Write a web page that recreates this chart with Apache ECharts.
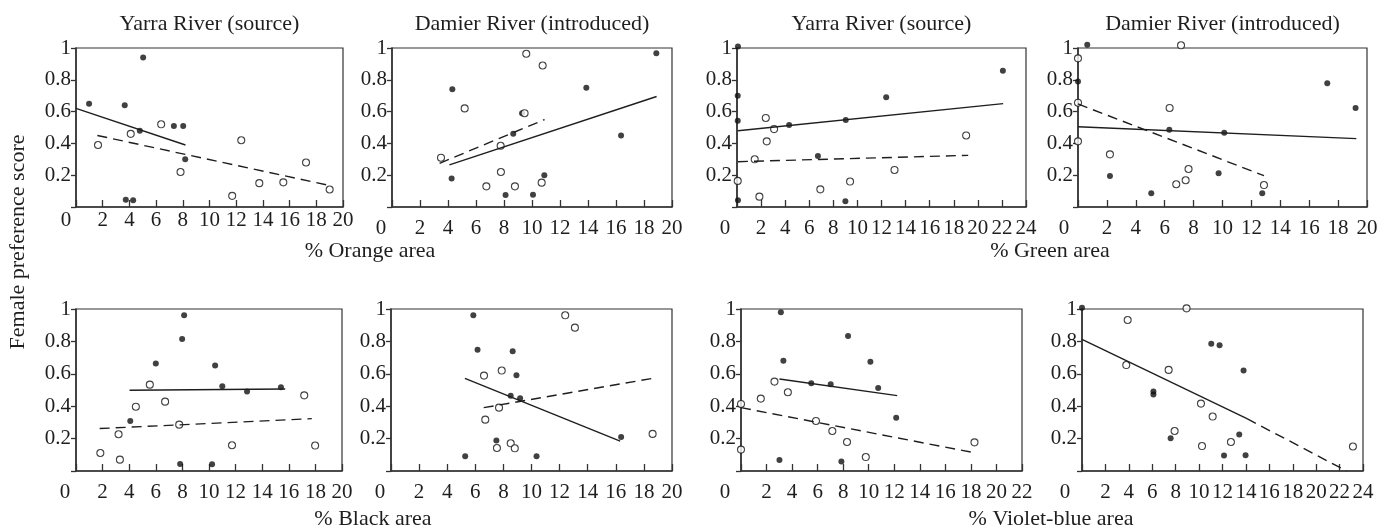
<!DOCTYPE html>
<html>
<head>
<meta charset="utf-8">
<script src="https://cdn.jsdelivr.net/npm/echarts@6/dist/echarts.min.js"></script>
<style>
	html, body { margin: 0; padding: 0; background: #fff; }
	#chart { width: 1392px; height: 530px; }
</style>
</head>
<body>
<div id="chart"></div>
<script>
// 8 panels: filled dots, open circles, solid fit line, dashed fit line

// % orange area, Yarra River (source)
const orangeYarraFilled = [[0.98, 0.65], [3.65, 0.64], [5.03, 0.94], [4.78, 0.48], [7.33, 0.51], [8.03, 0.51], [8.18, 0.30], [3.73, 0.046], [4.28, 0.042]];
const orangeYarraOpen = [[1.65, 0.39], [4.1, 0.46], [6.38, 0.52], [7.83, 0.22], [11.7, 0.07], [12.38, 0.42], [13.73, 0.15], [15.53, 0.155], [17.23, 0.28], [19.0, 0.11]];
const orangeYarraSolid = [[0, 0.62], [8.2, 0.39]];
const orangeYarraDashed = [[1.6, 0.45], [19, 0.135]];

// % orange area, Damier River (introduced)
const orangeDamierFilled = [[4.31, 0.74], [4.26, 0.18], [8.66, 0.46], [9.29, 0.59], [8.11, 0.075], [10.07, 0.077], [10.88, 0.2], [13.88, 0.75], [16.36, 0.45], [18.88, 0.967]];
const orangeDamierOpen = [[3.5, 0.31], [5.19, 0.62], [6.74, 0.13], [7.76, 0.385], [7.78, 0.22], [8.78, 0.13], [9.47, 0.59], [9.59, 0.964], [10.76, 0.89], [10.69, 0.153]];
const orangeDamierSolid = [[4.1, 0.265], [18.9, 0.695]];
const orangeDamierDashed = [[3.4, 0.275], [10.9, 0.55]];

// % green area, Yarra River (source)
const greenYarraFilled = [[0.08, 1.01], [0.06, 0.70], [0.06, 0.543], [0.08, 0.042], [4.33, 0.516], [6.72, 0.32], [9.03, 0.547], [9.0, 0.036], [12.39, 0.69], [22.08, 0.857]];
const greenYarraOpen = [[0.06, 0.164], [1.47, 0.30], [1.86, 0.065], [2.39, 0.56], [2.47, 0.413], [3.08, 0.49], [6.92, 0.111], [9.39, 0.16], [13.08, 0.233], [19.03, 0.45]];
const greenYarraSolid = [[0.08, 0.48], [22.1, 0.65]];
const greenYarraDashed = [[0.08, 0.285], [19.2, 0.325]];

// % green area, Damier River (introduced)
const greenDamierFilled = [[0.64, 1.02], [0, 0.79], [2.21, 0.195], [5.07, 0.086], [6.32, 0.486], [10.12, 0.467], [9.73, 0.212], [12.75, 0.086], [17.25, 0.778], [19.21, 0.623]];
const greenDamierOpen = [[0, 0.935], [0, 0.656], [0, 0.413], [2.21, 0.331], [6.34, 0.623], [7.13, 1.017], [6.8, 0.143], [7.45, 0.168], [7.65, 0.239], [12.87, 0.138]];
const greenDamierSolid = [[0, 0.505], [19.26, 0.43]];
const greenDamierDashed = [[0, 0.648], [12.87, 0.197]];

// % black area, Yarra River (source)
const blackYarraFilled = [[4.08, 0.309], [6.0, 0.663], [8.13, 0.961], [7.98, 0.815], [7.83, 0.043], [10.23, 0.041], [10.46, 0.652], [11.0, 0.523], [12.86, 0.49], [15.41, 0.517]];
const blackYarraOpen = [[1.83, 0.111], [3.2, 0.227], [3.3, 0.07], [4.5, 0.397], [5.55, 0.533], [6.7, 0.428], [7.76, 0.286], [11.73, 0.159], [17.16, 0.467], [17.98, 0.157]];
const blackYarraSolid = [[4.03, 0.498], [15.73, 0.506]];
const blackYarraDashed = [[1.78, 0.262], [17.73, 0.323]];

// % black area, Damier River (introduced)
const blackDamierFilled = [[5.28, 0.091], [5.86, 0.961], [6.16, 0.749], [7.5, 0.188], [8.52, 0.465], [8.66, 0.739], [8.93, 0.591], [9.19, 0.449], [10.36, 0.091], [16.38, 0.21]];
const blackDamierOpen = [[6.62, 0.589], [6.71, 0.317], [7.54, 0.142], [7.69, 0.391], [7.88, 0.62], [8.52, 0.171], [8.81, 0.14], [12.4, 0.961], [13.09, 0.885], [18.62, 0.229]];
const blackDamierSolid = [[5.26, 0.572], [16.31, 0.185]];
const blackDamierDashed = [[6.6, 0.391], [18.76, 0.574]];

// % violet-blue area, Yarra River (source)
const violetYarraFilled = [[3.12, 0.98], [3.01, 0.068], [3.32, 0.681], [5.5, 0.541], [7.02, 0.535], [7.86, 0.058], [8.38, 0.833], [10.13, 0.675], [10.74, 0.512], [12.15, 0.329]];
const violetYarraOpen = [[0, 0.414], [0, 0.132], [1.55, 0.447], [2.62, 0.552], [3.67, 0.486], [5.87, 0.309], [7.15, 0.247], [8.3, 0.179], [9.77, 0.086], [18.28, 0.177]];
const violetYarraSolid = [[3.01, 0.568], [12.23, 0.465]];
const violetYarraDashed = [[0, 0.391], [18.12, 0.115]];

// % violet-blue area, Damier River (introduced)
const violetDamierFilled = [[0, 1.008], [6.1, 0.49], [6.1, 0.472], [7.57, 0.202], [11.04, 0.786], [11.75, 0.776], [13.8, 0.621], [13.43, 0.225], [12.13, 0.095], [13.97, 0.097]];
const violetDamierOpen = [[3.9, 0.932], [3.78, 0.654], [8.93, 1.004], [7.4, 0.624], [7.91, 0.247], [10.16, 0.416], [10.25, 0.154], [11.16, 0.336], [12.72, 0.179], [23.14, 0.151]];
const violetDamierSolid = [[0, 0.813], [14.09, 0.323]];
const violetDamierDashed = [[14.09, 0.323], [22.6, 0.0]];

// axis ranges and text
const xMaxes = [20, 20, 24, 20, 20, 20, 22, 24];
const panelTitles = ["Yarra River (source)", "Damier River (introduced)", "Yarra River (source)", "Damier River (introduced)"];
const xAxisNames = ["% Orange area", "% Green area", "% Black area", "% Violet-blue area"];
const yAxisName = "Female preference score";

const panels = [
	[orangeYarraFilled, orangeYarraOpen, orangeYarraSolid, orangeYarraDashed],
	[orangeDamierFilled, orangeDamierOpen, orangeDamierSolid, orangeDamierDashed],
	[greenYarraFilled, greenYarraOpen, greenYarraSolid, greenYarraDashed],
	[greenDamierFilled, greenDamierOpen, greenDamierSolid, greenDamierDashed],
	[blackYarraFilled, blackYarraOpen, blackYarraSolid, blackYarraDashed],
	[blackDamierFilled, blackDamierOpen, blackDamierSolid, blackDamierDashed],
	[violetYarraFilled, violetYarraOpen, violetYarraSolid, violetYarraDashed],
	[violetDamierFilled, violetDamierOpen, violetDamierSolid, violetDamierDashed],
];

// layout
const FONT = "'Liberation Serif', 'Times New Roman', serif";
const INK = "#1e1e1e";
const grids = [
	{ left: 76, top: 48, width: 267, height: 159 },
	{ left: 392, top: 48, width: 280, height: 159 },
	{ left: 737, top: 48, width: 289, height: 159 },
	{ left: 1078, top: 48, width: 289, height: 159 },
	{ left: 76, top: 309, width: 266, height: 162 },
	{ left: 391, top: 309, width: 281, height: 162 },
	{ left: 741, top: 309, width: 281, height: 162 },
	{ left: 1082, top: 309, width: 281, height: 162 },
];
// the "0" x label sits left of the corner
const zeroShift = [10, 11, 12, 14, 11, 11, 16, 17];
const xLabelMargin = [3, 11, 11, 11, 11, 11, 11, 11];

const chart = echarts.init(document.getElementById("chart"), null, { renderer: "canvas" });

const textEl = (text, x, y, size, rotation) => ({
	type: "text",
	x, y,
	rotation: rotation || 0,
	style: {
		text,
		fontFamily: FONT,
		fontSize: size,
		fill: INK,
		align: "center",
		verticalAlign: "middle",
		textAlign: "center",
		textVerticalAlign: "middle",
	},
});

const series = [];
panels.forEach(([filled, open, solid, dashed], i) => {
	const ax = { xAxisIndex: i, yAxisIndex: i, silent: true };
	series.push({ ...ax, type: "line", data: solid, symbol: "none", lineStyle: { color: INK, width: 1.4 } });
	series.push({ ...ax, type: "line", data: dashed, symbol: "none", lineStyle: { color: INK, width: 1.4, type: [10, 6] } });
	series.push({ ...ax, type: "scatter", data: filled, clip: false, symbol: "circle", symbolSize: 6, itemStyle: { color: "#111" } });
	series.push({ ...ax, type: "scatter", data: open, clip: false, symbol: "circle", symbolSize: 7, itemStyle: { color: "#fff", borderColor: "#111", borderWidth: 1.1 } });
});

chart.setOption({
	animation: false,
	grid: grids.map((g) => ({ ...g, show: true, borderColor: "#333", borderWidth: 1.2, containLabel: false })),
	xAxis: grids.map((g, i) => ({
		gridIndex: i,
		type: "value",
		min: 0,
		max: xMaxes[i],
		interval: 2,
		axisLine: { show: true, lineStyle: { color: "#333", width: 1.6 } },
		axisTick: { show: true, inside: true, length: 7, lineStyle: { color: "#333", width: 1.3 } },
		splitLine: { show: false },
		axisLabel: {
			show: true,
			showMinLabel: true,
			showMaxLabel: true,
			margin: xLabelMargin[i],
			fontFamily: FONT,
			fontSize: 21,
			color: INK,
			formatter: (v) => (v === 0 ? "{z|0}" : String(v)),
			rich: { z: { fontFamily: FONT, fontSize: 21, color: INK, padding: [0, zeroShift[i] * 2, 0, 0] } },
		},
	})),
	yAxis: grids.map((g, i) => ({
		gridIndex: i,
		type: "value",
		min: 0,
		max: 1,
		interval: 0.2,
		axisLine: { show: true, lineStyle: { color: "#333", width: 1.6 } },
		axisTick: { show: true, inside: false, length: 5, lineStyle: { color: "#333", width: 1.3 } },
		splitLine: { show: false },
		axisLabel: {
			show: true,
			margin: 5,
			fontFamily: FONT,
			fontSize: 21,
			color: INK,
			formatter: (v) => (v === 0 ? "" : String(+v.toFixed(1))),
		},
	})),
	graphic: [
		...panelTitles.map((t, i) => textEl(t, grids[i].left + grids[i].width / 2, 24, 22)),
		textEl(xAxisNames[0], 370, 251, 22),
		textEl(xAxisNames[1], 1050, 251, 22),
		textEl(xAxisNames[2], 373, 519, 22),
		textEl(xAxisNames[3], 1051, 519, 22),
		textEl(yAxisName, 18, 242, 22, Math.PI / 2),
	],
	series,
});
</script>
</body>
</html>
